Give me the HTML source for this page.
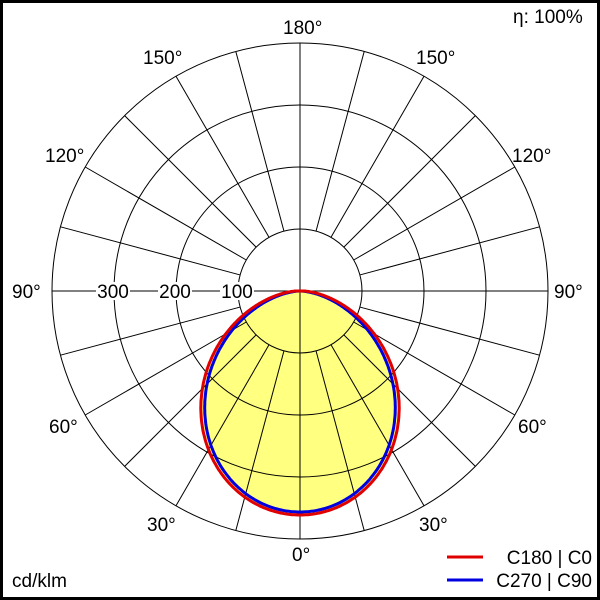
<!DOCTYPE html>
<html><head><style>
html,body{margin:0;padding:0;background:#fff}
#w{width:600px;height:600px;box-sizing:border-box;border:3px solid #000;position:relative;overflow:hidden}
svg{position:absolute;left:-3px;top:-3px}
text{font-family:"Liberation Sans",sans-serif;font-size:19px;fill:#000}
</style></head><body><div id="w">
<svg id="s" width="600" height="600" viewBox="0 0 600 600">
<path id="fill" fill="#ffff80" stroke="none"/>
<g id="grid" stroke="#000" stroke-width="1" fill="none"></g>
<path id="blue" fill="none" stroke="#0000e0" stroke-width="3"/>
<path id="red" fill="none" stroke="#e00000" stroke-width="3"/>
<g id="lab"></g>
<text x="283" y="34">180°</text>
<text x="143" y="64">150°</text>
<text x="416" y="64">150°</text>
<text x="45" y="162">120°</text>
<text x="512" y="162">120°</text>
<text x="12" y="298">90°</text>
<text x="554" y="298">90°</text>
<text x="49" y="433">60°</text>
<text x="518" y="433">60°</text>
<text x="147" y="531">30°</text>
<text x="419" y="531">30°</text>
<text x="292" y="561">0°</text>
<text x="513" y="23" font-size="18">η: 100%</text>
<text x="12" y="587" font-size="16">cd/klm</text>
<line x1="447" y1="557" x2="483" y2="557" stroke="#e00000" stroke-width="3"/>
<line x1="447" y1="580" x2="483" y2="580" stroke="#0000e0" stroke-width="3"/>
<text x="592" y="564" text-anchor="end">C180 | C0</text>
<text x="592" y="587" text-anchor="end">C270 | C90</text>
</svg></div>
<script>
var cx=300,cy=291,ns="http://www.w3.org/2000/svg";
var g=document.getElementById('grid');
function el(t,a){var e=document.createElementNS(ns,t);for(var k in a)e.setAttribute(k,a[k]);return e;}
[62,124,186,248].forEach(function(r){g.appendChild(el('circle',{cx:cx,cy:cy,r:r}));});
for(var a=0;a<360;a+=15){var t=a*Math.PI/180;var s=Math.sin(t),c=Math.cos(t);
 var r0=(a%90==0)?0:62;
 g.appendChild(el('line',{x1:cx+r0*s,y1:cy+r0*c,x2:cx+248*s,y2:cy+248*c}));}
var L=document.getElementById('lab');
[[237,'100'],[175,'200'],[113,'300']].forEach(function(p){
 L.appendChild(el('rect',{x:p[0]-17,y:282,width:34,height:18,fill:'#fff'}));
 var tx=el('text',{x:p[0],y:298,'text-anchor':'middle'});tx.textContent=p[1];L.appendChild(tx);});
function curve(R,p,off){var d='';for(var i=-180;i<=180;i++){var t=i*Math.PI/360;var c=Math.cos(t);
 var r=R*Math.pow(Math.max(c,0),p)+off*Math.pow(Math.sin(t),2);
 var x=cx+r*Math.sin(t),y=cy+r*Math.cos(t);d+=(i==-180?'M':'L')+x.toFixed(1)+' '+y.toFixed(1);}return d+'Z';}
var red=curve(224,1.45,5),blue=curve(221,1.5,0);
document.getElementById('fill').setAttribute('d',red);
document.getElementById('red').setAttribute('d',red);
document.getElementById('blue').setAttribute('d',blue);
</script>
</body></html>
